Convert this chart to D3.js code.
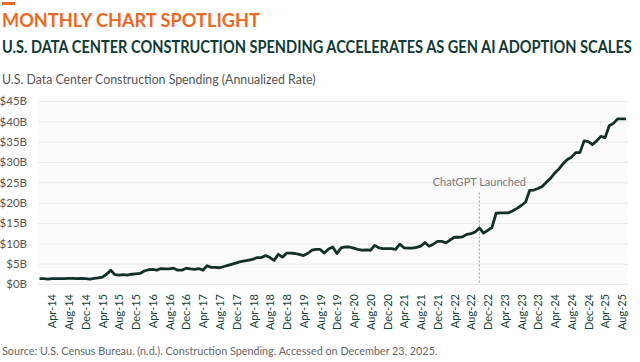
<!DOCTYPE html>
<html>
<head>
<meta charset="utf-8">
<script src="https://cdn.jsdelivr.net/npm/d3@7/dist/d3.min.js"></script>
<style>
  html, body { margin: 0; padding: 0; background: #fff; }
  svg { display: block; font-family: Lato, "Open Sans", sans-serif; }
</style>
</head>
<body>
<svg id="chart" width="640" height="362"></svg>
<script>
// monthly values, Jan-14 .. Sep-25, $B annualized
const MONTH_NAMES = ['Jan', 'Feb', 'Mar', 'Apr', 'May', 'Jun', 'Jul', 'Aug', 'Sep', 'Oct', 'Nov', 'Dec']
const START_YEAR = 2014
const spending = [
  1.3, 1.3, 1.2, 1.3, 1.3, 1.3, 1.3, 1.4, 1.4, 1.3, 1.4, 1.3,
  1.2, 1.4, 1.5, 1.7, 2.4, 3.4, 2.3, 2.2, 2.3, 2.2, 2.4, 2.5,
  2.6, 3.2, 3.5, 3.6, 3.4, 3.8, 3.7, 3.7, 3.9, 3.4, 3.4, 3.9,
  3.7, 3.6, 3.8, 3.4, 4.5, 4.1, 4.1, 4.0, 4.3, 4.6, 4.9, 5.2,
  5.5, 5.7, 5.9, 6.1, 6.5, 6.5, 7.0, 6.5, 5.8, 7.3, 6.6, 7.6,
  7.6, 7.5, 7.3, 7.0, 7.5, 8.3, 8.5, 8.5, 7.6, 8.6, 9.1, 7.5,
  8.9, 9.1, 9.1, 8.8, 8.5, 8.3, 8.4, 8.3, 9.5, 8.9, 8.7, 8.7,
  8.7, 8.5, 9.8, 8.9, 8.8, 8.8, 9.0, 9.3, 10.2, 9.3, 9.8, 10.5,
  10.5, 10.1, 10.8, 11.5, 11.5, 11.6, 12.2, 12.4, 12.8, 13.8, 12.5, 13.2,
  13.9, 17.4, 17.5, 17.5, 17.5, 18.0, 18.6, 19.3, 20.1, 23.0, 23.1, 23.5,
  24.0, 25.0, 26.0, 27.3, 28.3, 29.6, 30.6, 31.2, 32.3, 32.3, 35.2, 35.0,
  34.3, 35.2, 36.3, 36.0, 38.9, 39.5, 40.6, 40.6, 40.6
]
const yTicks = [0, 5, 10, 15, 20, 25, 30, 35, 40, 45]
const tickEvery = 4
const firstTickIndex = 3 // Apr-14
const launchMonth = 'Oct-22'
const launchLabel = 'ChatGPT Launched'

const monthLabel = i => `${MONTH_NAMES[i % 12]}-${String(START_YEAR + Math.floor(i / 12)).slice(2)}`
const data = spending.map((v, i) => ({ month: monthLabel(i), value: v }))

const svg = d3.select('#chart')
const margin = { top: 101, right: 12, bottom: 78, left: 38 }
const width = 640 - margin.left - margin.right
const height = 362 - margin.top - margin.bottom

// squeeze a text horizontally so it spans exactly `w` pixels
function fitText (sel, x0, y0, w) {
  const natural = sel.node().getComputedTextLength()
  sel.attr('x', 0).attr('y', 0)
    .attr('transform', `translate(${x0},${y0}) scale(${w / natural},1)`)
  return sel
}

// header
svg.append('rect').attr('x', 2).attr('y', 2).attr('width', 13).attr('height', 3).attr('fill', '#ea6a24')
svg.append('text')
  .attr('fill', '#ea6a24').attr('font-size', 18.5).attr('font-weight', 700)
  .text('MONTHLY CHART SPOTLIGHT')
  .call(fitText, 2, 27, 258)
svg.append('text')
  .attr('fill', '#0f3a36').attr('font-size', 17).attr('font-weight', 700)
  .text('U.S. DATA CENTER CONSTRUCTION SPENDING ACCELERATES AS GEN AI ADOPTION SCALES')
  .call(fitText, 2, 53, 630)
svg.append('text')
  .attr('fill', '#555').attr('font-size', 13)
  .text('U.S. Data Center Construction Spending (Annualized Rate)')
  .call(fitText, 2, 84, 314)

const g = svg.append('g').attr('transform', `translate(${margin.left},${margin.top})`)

const x = d3.scalePoint()
  .domain(data.map(d => d.month))
  .range([1.5, width - 2])

const y = d3.scaleLinear()
  .domain([0, 45])
  .range([height, 0])

g.append('rect').attr('width', width).attr('height', height).attr('fill', '#fbfbfd')

// grid
g.append('g')
  .call(d3.axisLeft(y).tickValues(yTicks).tickSize(-width).tickFormat(''))
  .call(a => a.select('.domain').remove())
  .call(a => a.selectAll('line').attr('stroke', '#e9e9ee').attr('stroke-width', 1))

// y labels
g.append('g')
  .call(d3.axisLeft(y).tickValues(yTicks).tickSize(0).tickPadding(11).tickFormat(d => `$${d}B`))
  .call(a => a.select('.domain').remove())
  .call(a => a.selectAll('text')
    .attr('fill', '#555').attr('font-size', 11.5)
    .attr('font-family', 'Lato, sans-serif'))

// x labels
const xTickValues = data.map(d => d.month).filter((m, i) => i >= firstTickIndex && (i - firstTickIndex) % tickEvery === 0)
g.append('g')
  .attr('transform', `translate(0,${height})`)
  .call(d3.axisBottom(x).tickValues(xTickValues).tickSize(0))
  .call(a => a.select('.domain').remove())
  .call(a => a.selectAll('text')
    .attr('fill', '#114236').attr('font-size', 11)
    .attr('font-family', 'Lato, sans-serif')
    .attr('text-anchor', 'end')
    .attr('transform', 'rotate(-90)')
    .attr('x', -10).attr('y', 0).attr('dy', '0.35em'))

// launch marker
const lx = x(launchMonth)
g.append('line')
  .attr('x1', lx).attr('x2', lx)
  .attr('y1', y(22.5)).attr('y2', height)
  .attr('stroke', '#999').attr('stroke-width', 1).attr('stroke-dasharray', '2,2')
g.append('text')
  .attr('x', lx).attr('y', y(22.5) - 7)
  .attr('text-anchor', 'middle')
  .attr('fill', '#777').attr('font-size', 11)
  .text(launchLabel)

// line
const line = d3.line()
  .x(d => x(d.month))
  .y(d => y(d.value))

g.append('path')
  .datum(data)
  .attr('fill', 'none')
  .attr('stroke', '#11302b')
  .attr('stroke-width', 2.8)
  .attr('stroke-linejoin', 'round')
  .attr('d', line)

// source
svg.append('text')
  .attr('fill', '#666').attr('font-size', 12)
  .text('Source: U.S. Census Bureau. (n.d.). Construction Spending. Accessed on December 23, 2025.')
  .call(fitText, 2, 355, 436)
</script>
</body>
</html>
